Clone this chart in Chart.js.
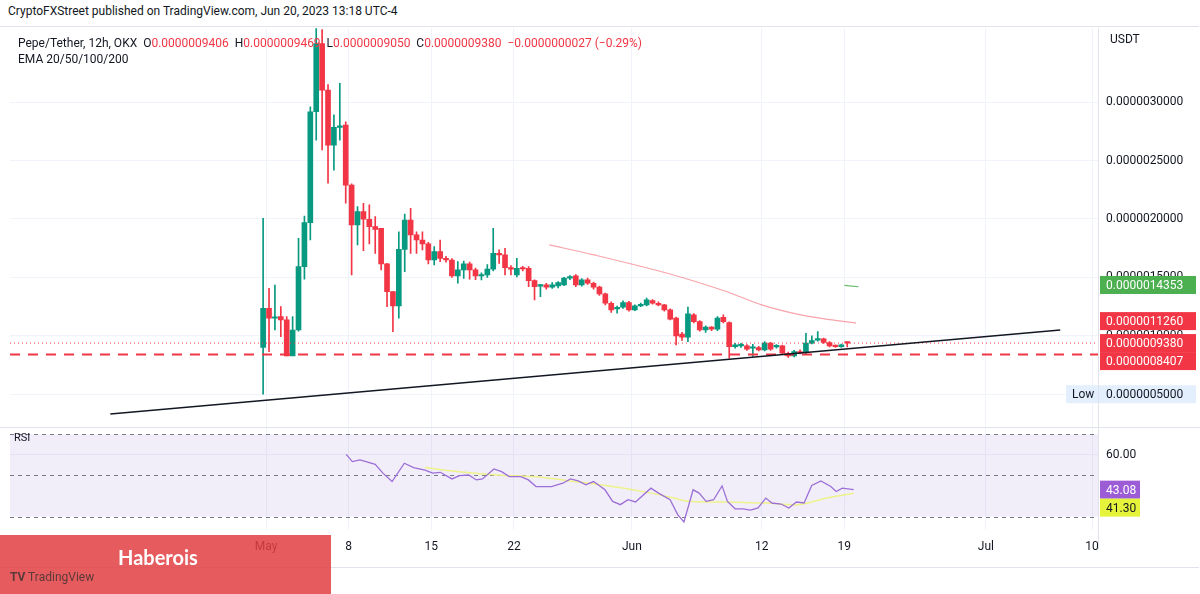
<!DOCTYPE html>
<html><head><meta charset="utf-8">
<script src="https://cdn.jsdelivr.net/npm/chart.js@4.4.0/dist/chart.umd.min.js"></script>
<style>
body{margin:0;width:1200px;height:594px;background:#fff;font-family:Roboto,"Noto Sans",sans-serif;position:relative;overflow:hidden;color:#131722}
#hdr{position:absolute;left:8px;top:4px;font-size:12px;color:#131722}
#frame{position:absolute;left:0;top:26px;width:1199px;height:540px;border-top:1px solid #e0e3eb;border-bottom:1px solid #e0e3eb}
#cA{position:absolute;left:0;top:13px}
#cB{position:absolute;left:0;top:413px}
#sep{position:absolute;left:0;top:427px;width:1200px;height:1px;background:#e0e3eb}
#leg{position:absolute;left:18px;top:35px;font-size:12px;line-height:16px}
#leg .r{color:#f23645}
#wm{position:absolute;left:0;top:535px;width:331px;height:59px;background:rgba(226,62,66,0.85)}
#wm .h{position:absolute;left:118px;top:10px;color:#fff;font-size:20px;font-weight:bold;font-family:Lato,sans-serif}
#wm .t{position:absolute;left:10px;top:35px;color:#5b3a3a;font-size:12px}
</style></head><body>
<div id="hdr">CryptoFXStreet published on TradingView.com, Jun 20, 2023 13:18 UTC-4</div>
<div id="frame"></div>
<canvas id="cA" width="1200" height="430"></canvas>
<canvas id="cB" width="1200" height="155"></canvas>
<div id="sep"></div>
<div id="leg">Pepe/Tether, 12h, OKX &nbsp;O<span class="r">0.0000009406</span> &nbsp;H<span class="r">0.0000009469</span> &nbsp;L<span class="r">0.0000009050</span> &nbsp;C<span class="r">0.0000009380</span> &nbsp;<span class="r">−0.0000000027 (−0.29%)</span><br>EMA 20/50/100/200</div>
<div id="wm"><div class="h">Haberois</div><div class="t"><b>TV</b> TradingView</div></div>
<script>
// prices in units of 1e-9 USDT; x in days since May 1
const candleStartDay = -0.25;
const opens  = [900,1236,1150,1165,1136,828,1050,1592,1968,2917,3500,3102,2632,2783,2803,2290,1948,2062,1997,1934,1920,1615,1378,1256,1740,1991,1863,1820,1786,1649,1720,1663,1649,1512,1564,1615,1564,1512,1520,1570,1706,1692,1583,1520,1580,1578,1472,1425,1436,1416,1427,1436,1493,1513,1436,1478,1450,1416,1359,1279,1230,1245,1285,1222,1256,1265,1302,1279,1265,1222,1151,1014,988,1179,1122,1051,1074,1057,1159,1114,908,914,914,894,900,880,937,905,914,851,829,866,855,937,963,974,943,914,908,941];
const closes = [1236,1150,1160,1136,828,1050,1592,1968,2917,3500,3102,2632,2783,2795,2290,1948,2062,1997,1934,1911,1615,1378,1256,1740,1991,1863,1820,1786,1649,1720,1663,1649,1512,1564,1615,1564,1512,1520,1570,1706,1692,1583,1570,1578,1572,1472,1421,1435,1416,1436,1456,1493,1507,1436,1478,1450,1416,1359,1279,1222,1240,1285,1222,1256,1265,1308,1279,1265,1222,1142,1000,988,1188,1122,1051,1074,1057,1151,1122,908,923,923,886,897,880,937,886,910,851,829,866,851,937,960,968,943,914,908,923,938];
const highs  = [2005,1407,1435,1250,1165,1165,1834,2025,2960,3650,3620,3150,2890,3160,2830,2300,2105,2133,2120,2020,1920,1620,1378,1890,2042,2090,1890,1890,1800,1763,1820,1680,1660,1635,1640,1630,1580,1540,1610,1920,1735,1749,1600,1663,1595,1592,1480,1440,1450,1455,1465,1500,1515,1525,1490,1495,1460,1425,1365,1290,1255,1300,1295,1265,1280,1322,1310,1290,1270,1230,1160,1030,1245,1190,1130,1085,1080,1165,1180,1120,935,935,925,928,910,950,945,925,920,860,875,880,1022,1000,1037,980,950,920,930,947];
const lows   = [500,865,1050,993,828,830,1040,1484,1820,2675,2590,2305,2418,2675,2134,1520,1777,1729,1786,1706,1563,1250,1036,1150,1549,1706,1706,1735,1615,1606,1635,1630,1500,1450,1492,1484,1480,1478,1500,1555,1620,1520,1520,1505,1555,1420,1307,1336,1400,1405,1410,1430,1480,1420,1425,1440,1400,1345,1265,1200,1193,1235,1210,1215,1250,1255,1270,1255,1210,1135,923,960,951,1110,1040,1030,1045,1045,1110,809,895,900,875,823,870,870,875,895,840,815,820,845,845,930,955,935,905,900,900,905];
const emaDays = [24,27.8,34,39,42,45.3,48,50];
const emaVals = [1778,1692,1535,1379,1265,1179,1136,1108];
const ema2Days = [49,50.2];
const ema2Vals = [1432,1420];
const trendDays = [-13.2,67.3];
const trendVals = [332,1050];
const supportLevel = 841;
const lastPrice = 938;
const priceTicks = [500,1000,1500,2000,2500,3000];
const priceTags = [
 {v:1435,t:'0.0000014353',bg:'#4caf50',fg:'#fff'},
 {v:1126,t:'0.0000011260',bg:'#f23645',fg:'#fff'},
 {v:938,t:'0.0000009380',bg:'#f23645',fg:'#fff'},
 {v:841,t:'0.0000008407',bg:'#f23645',fg:'#fff'}];
const lowVal = 500;
const rsiDays = [6.79,7.31,7.96,9.25,9.90,10.68,11.72,12.5,13.47,14.12,14.77,15.75,16.39,17.17,17.82,18.34,19.31,19.96,20.61,21.58,22.23,22.88,24.18,25.15,25.80,26.45,27.10,27.75,28.72,29.37,30.02,30.67,31.31,32.61,33.26,34.24,34.88,35.41,36.19,36.70,37.29,37.93,38.64,39.10,39.75,40.40,41.05,41.69,42.35,42.86,43.64,44.30,44.94,45.59,46.24,47.02,47.86,48.31,48.83,49.80];
const rsiVals = [60.2,56.7,57.5,55.4,51.1,47,55.9,53.8,52.6,51.1,51.5,48.3,49.9,50.2,47.8,48.3,53.1,51.8,49.4,49.4,47.8,44.6,44.6,46.2,48.3,47.3,45.4,47,43,37.4,35.8,38.2,37.1,43.8,41.4,38.2,31,27.4,43,41.4,37.4,38.2,44.9,37.4,33.8,33.8,33.2,34.2,39,36.6,36.1,34.2,37.1,36.6,45.1,47.3,44.6,42.2,43.8,43.08];
const rsiMaDays = [13.47,16.39,19.63,22.88,26.12,29.37,32.61,34.56,35.86,39.10,42.35,44.94,46.24,47.54,49.8];
const rsiMaVals = [53.8,51.8,50.2,49.4,47,44.6,41.4,39,37.4,37.1,36.6,35.8,37.1,39,41.3];
const dateTickDays = [0,7,14,21,31,42,49,61,70];
const dateTickLabels = ['May','8','15','22','Jun','12','19','Jul','10'];
const xMin=-21.7, xMax=70.5;
const GREEN='#089981', RED='#f23645';

const fmt = v => (v*1e-9).toFixed(10);
const pts = (xs,ys)=>xs.map((x,i)=>({x,y:ys[i]}));
const cx = opens.map((_,i)=>candleStartDay+i*0.5);
const col = opens.map((o,i)=>closes[i]>=o?GREEN:RED);
const AXW = 102;
const xScale = (showTicks)=>({type:'linear',min:xMin,max:xMax,offset:false,
  afterFit:s=>{ if(!showTicks) s.height=0; },
  afterBuildTicks:s=>{s.ticks=dateTickDays.map(v=>({value:v}));},
  ticks:{display:showTicks,autoSkip:false,maxRotation:0,color:'#131722',font:{size:12,family:'Roboto'},padding:10,
    callback:v=>dateTickLabels[dateTickDays.indexOf(v)]},
  grid:{color:'#f0f3fa',drawTicks:false,offset:false},border:{display:false}});

const tagPlugin = {id:'tags',afterDraw(c){
  const ctx=c.ctx, y=c.scales.y, a=c.chartArea;
  ctx.save();
  ctx.font='12px Roboto';ctx.textBaseline='middle';
  ctx.fillStyle='#131722';ctx.fillText('USDT',a.right+12,a.top+12);
  let prev=-1e9;
  priceTags.forEach(t=>{let py=y.getPixelForValue(t.v); if(py<prev+18) py=prev+18; prev=py;
    ctx.fillStyle=t.bg;ctx.fillRect(a.right+2,py-9,96,18);ctx.fillStyle=t.fg;ctx.fillText(t.t,a.right+8,py+1);});
  const ly=y.getPixelForValue(lowVal);
  ctx.fillStyle='#e3effd';ctx.fillRect(a.right-32,ly-9,130,18);
  ctx.fillStyle='#131722';ctx.fillText('Low',a.right-26,ly+1);ctx.fillText(fmt(lowVal),a.right+8,ly+1);
  ctx.strokeStyle='#e0e3eb';ctx.beginPath();ctx.moveTo(a.right+0.5,a.top);ctx.lineTo(a.right+0.5,a.bottom);ctx.stroke();
  ctx.restore();}};

new Chart(document.getElementById('cA'),{
 type:'bar',
 data:{datasets:[
  {type:'line',data:pts(trendDays,trendVals),borderColor:'#131722',borderWidth:1.5,pointRadius:0,order:0},
  {type:'line',data:pts([xMin,xMax],[supportLevel,supportLevel]),borderColor:RED,borderWidth:2,borderDash:[10,8],pointRadius:0,order:1},
  {type:'line',data:pts([xMin,xMax],[lastPrice,lastPrice]),borderColor:RED,borderWidth:1,borderDash:[1,3],pointRadius:0,order:1},
  {type:'line',data:pts(emaDays,emaVals),borderColor:'rgba(242,54,69,0.45)',borderWidth:1.2,pointRadius:0,tension:0.3,order:1},
  {type:'line',data:pts(ema2Days,ema2Vals),borderColor:'#66bb6a',borderWidth:1.2,pointRadius:0,order:1},
  {data:cx.map((x,i)=>({x,y:[lows[i],highs[i]]})),backgroundColor:col,barThickness:1,grouped:false,order:3},
  {data:cx.map((x,i)=>({x,y:[opens[i],closes[i]]})),backgroundColor:col,barThickness:5,minBarLength:1.5,grouped:false,order:2}
 ]},
 options:{responsive:false,animation:false,layout:{autoPadding:false,padding:{left:10,top:0,bottom:0,right:0}},
  plugins:{legend:{display:false},tooltip:{enabled:false}},
  scales:{x:xScale(false),
   y:{position:'right',min:213,max:3632,afterFit:s=>{s.width=AXW;},
    afterBuildTicks:s=>{s.ticks=priceTicks.map(v=>({value:v}));},
    ticks:{color:'#131722',font:{size:12,family:'Roboto'},padding:8,callback:v=>fmt(v)},
    grid:{color:'#f0f3fa',drawTicks:false},border:{display:false}}}},
 plugins:[tagPlugin]});

const rsiPlugin={id:'rsi',beforeDatasetsDraw(c){
  const ctx=c.ctx,y=c.scales.y,a=c.chartArea;
  ctx.save();
  const t=y.getPixelForValue(70),b=y.getPixelForValue(30);
  ctx.fillStyle='rgba(126,87,194,0.1)';ctx.fillRect(a.left,t,a.right-a.left,b-t);
  ctx.strokeStyle='#787b86';ctx.setLineDash([4,4]);ctx.lineWidth=1;
  [70,50,30].forEach(v=>{const py=Math.round(y.getPixelForValue(v))+0.5;ctx.beginPath();ctx.moveTo(a.left,py);ctx.lineTo(a.right,py);ctx.stroke();});
  ctx.restore();},
 afterDraw(c){const ctx=c.ctx,y=c.scales.y,a=c.chartArea;ctx.save();
  ctx.font='11px Roboto';ctx.fillStyle='#131722';ctx.textBaseline='middle';ctx.fillText('RSI',a.left+4,a.top+10);
  ctx.font='12px Roboto';
  const p1=y.getPixelForValue(rsiVals[rsiVals.length-1]),p2=Math.max(y.getPixelForValue(rsiMaVals[rsiMaVals.length-1]),p1+18);
  ctx.fillStyle='#9c5cd6';ctx.fillRect(a.right+2,p1-9,40,18);ctx.fillStyle='#fff';ctx.fillText(rsiVals[rsiVals.length-1].toFixed(2),a.right+8,p1+1);
  ctx.fillStyle='#e5f43a';ctx.fillRect(a.right+2,p2-9,40,18);ctx.fillStyle='#131722';ctx.fillText(rsiMaVals[rsiMaVals.length-1].toFixed(2),a.right+8,p2+1);
  ctx.strokeStyle='#e0e3eb';ctx.beginPath();ctx.moveTo(a.right+0.5,a.top);ctx.lineTo(a.right+0.5,a.bottom+20);ctx.stroke();
  ctx.restore();}};

new Chart(document.getElementById('cB'),{
 type:'line',
 data:{datasets:[
  {data:pts(rsiDays,rsiVals),borderColor:'#9c6fd6',borderWidth:1.3,pointRadius:0},
  {data:pts(rsiMaDays,rsiMaVals),borderColor:'#eef28a',borderWidth:1.5,pointRadius:0,tension:0.4}
 ]},
 options:{responsive:false,animation:false,layout:{autoPadding:false,padding:{left:10,top:0,bottom:4,right:0}},
  plugins:{legend:{display:false},tooltip:{enabled:false}},
  scales:{x:xScale(true),
   y:{position:'right',min:23.7,max:72.9,afterFit:s=>{s.width=AXW;},
    afterBuildTicks:s=>{s.ticks=[{value:60}];},
    ticks:{color:'#131722',font:{size:12,family:'Roboto'},padding:8,callback:v=>v.toFixed(2)},
    grid:{color:'#f0f3fa',drawTicks:false},border:{display:false}}}},
 plugins:[rsiPlugin]});
</script></body></html>
